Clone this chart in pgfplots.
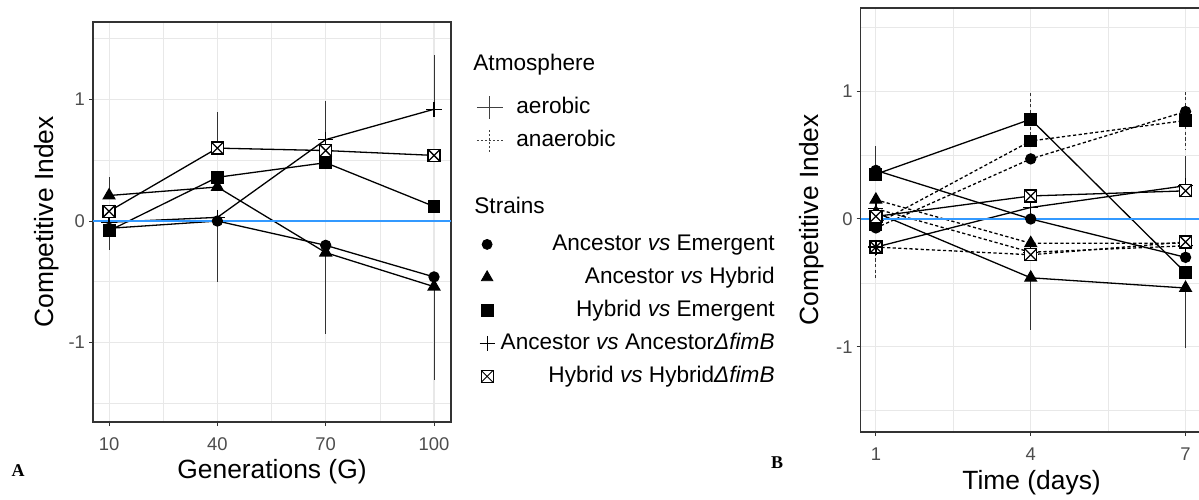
\documentclass[border=0pt]{standalone}
\usepackage{fontspec}
\setmainfont{Liberation Sans}
\newfontfamily\serifb{Liberation Serif}
\usepackage{pgfplots}
\pgfplotsset{compat=1.18}
\usetikzlibrary{plotmarks}

\definecolor{zeroblue}{RGB}{51,153,255}
\definecolor{gridgray}{RGB}{232,232,232}
\definecolor{framegray}{RGB}{51,51,51}
\definecolor{ticktext}{RGB}{77,77,77}

\newcommand\legfont{\fontsize{11.3}{13.5}\selectfont}

% open square with a cross (ggplot shape 7)
\pgfdeclareplotmark{boxx}{%
  \pgfpathrectangle{\pgfqpoint{-\pgfplotmarksize}{-\pgfplotmarksize}}{\pgfqpoint{2\pgfplotmarksize}{2\pgfplotmarksize}}%
  \pgfusepathqfillstroke
  \pgfpathmoveto{\pgfqpoint{-\pgfplotmarksize}{-\pgfplotmarksize}}%
  \pgfpathlineto{\pgfqpoint{\pgfplotmarksize}{\pgfplotmarksize}}%
  \pgfpathmoveto{\pgfqpoint{-\pgfplotmarksize}{\pgfplotmarksize}}%
  \pgfpathlineto{\pgfqpoint{\pgfplotmarksize}{-\pgfplotmarksize}}%
  \pgfusepathqstroke
}

\pgfplotsset{
  panel/.style={
    scale only axis, anchor=south west,
    axis line style={framegray, line width=0.6pt},
    grid=both,
    major grid style={gridgray, line width=0.55pt},
    minor grid style={gridgray, line width=0.3pt},
    tick align=outside, tick pos=left,
    major tick length=2pt, minor tick length=0pt,
    tick style={framegray, line width=0.5pt},
    ticklabel style={font=\fontsize{9.2}{10}\selectfont, text=ticktext},
    xticklabel style={yshift=-2.2pt},
    yticklabel style={xshift=1.5pt},
    label style={font=\fontsize{13.2}{15}\selectfont},
    ytick={-1,0,1}, yticklabels={-1,0,1},
    minor ytick={-1.5,-0.5,0.5,1.5},
  },
  aer/.style={black, line width=0.65pt},
  ana/.style={black, line width=0.65pt, dash pattern=on 1.6pt off 1.2pt},
  eb/.style={error bars/.cd, y dir=both, y explicit, error mark=none,
    error bar style={line width=0.45pt, black!80}},
  mAE/.style={mark=*, mark size=2.5pt, mark options={solid, fill=black}},
  mAH/.style={mark=triangle*, mark size=3.3pt, mark options={solid, fill=black}},
  mHE/.style={mark=square*, mark size=2.9pt, mark options={solid, fill=black}},
  mAA/.style={mark=+, mark size=3.8pt, mark options={solid}},
  mHH/.style={mark=boxx, mark size=3pt, mark options={solid, fill=white}},
}

\begin{document}
\begin{tikzpicture}[x=1pt,y=1pt]
\path[use as bounding box] (0,0) rectangle (599.5,249.5);

% ---------------- panel A
\begin{axis}[panel, at={(46.5pt,38.5pt)}, width=179pt, height=200pt,
  xmin=5.55, xmax=104.7, ymin=-1.654, ymax=1.638,
  xtick={10,40,70,100}, xticklabels={10,40,70,100}, minor xtick={25,55,85},
  xlabel={Generations (G)}, ylabel={Competitive Index},
  xlabel style={at={(axis description cs:0.5,-0.125)}, anchor=center},
  ylabel style={at={(axis description cs:-0.129,0.5)}, anchor=center},
]
\addplot[aer, mAE, eb] coordinates {(10,-0.06) +- (0,0) (40,0) -= (0,0.5) (70,-0.2) -= (0,0.73) (100,-0.46) +- (0,0)};
\addplot[aer, mAH, eb] coordinates {(10,0.21) += (0,0.15) (40,0.28) +- (0,0) (70,-0.26) +- (0,0) (100,-0.54) -= (0,0.77)};
\addplot[aer, mHE, eb] coordinates {(10,-0.08) -= (0,0.16) (40,0.36) +- (0,0) (70,0.48) +- (0,0) (100,0.12) +- (0,0)};
\addplot[aer, mAA, eb] coordinates {(10,-0.01) +- (0,0) (40,0.03) +- (0,0) (70,0.67) += (0,0.32) (100,0.92) += (0,0.45)};
\addplot[aer, mHH, eb] coordinates {(10,0.08) +- (0,0) (40,0.60) += (0,0.30) (70,0.58) +- (0,0) (100,0.54) +- (0,0)};
\addplot[zeroblue, line width=0.7pt] coordinates {(5.55,0) (104.7,0)};
\end{axis}

% ---------------- panel B
\begin{axis}[panel, at={(430.3pt,33.5pt)}, width=171pt, height=212pt,
  xmin=0.704, xmax=7.33, ymin=-1.666, ymax=1.65,
  xtick={1,4,7}, xticklabels={1,4,7}, minor xtick={2.5,5.5},
  xlabel={Time (days)}, ylabel={Competitive Index},
  xlabel style={at={(axis description cs:0.5,-0.120)}, anchor=center},
  ylabel style={at={(axis description cs:-0.143,0.5)}, anchor=center},
]
% anaerobic
\addplot[ana, mAE, eb] coordinates {(1,-0.07) +- (0,0) (4,0.47) +- (0,0) (7,0.84) += (0,0.17)};
\addplot[ana, mAH, eb] coordinates {(1,0.15) +- (0,0) (4,-0.19) +- (0,0) (7,-0.19) +- (0,0)};
\addplot[ana, mHE, eb] coordinates {(1,-0.04) +- (0,0) (4,0.61) += (0,0.39) (7,0.77) -= (0,0.22)};
\addplot[ana, mAA, eb] coordinates {(1,0.08) +- (0,0) (4,-0.26) +- (0,0) (7,-0.21) +- (0,0)};
\addplot[ana, mHH, eb] coordinates {(1,-0.22) -= (0,0.26) (4,-0.28) +- (0,0) (7,-0.18) +- (0,0)};
% aerobic
\addplot[aer, mAE, eb] coordinates {(1,0.38) += (0,0.19) (4,0) +- (0,0) (7,-0.30) +- (0,0)};
\addplot[aer, mAH, eb] coordinates {(1,0.05) +- (0,0) (4,-0.46) -= (0,0.41) (7,-0.54) -= (0,0.47)};
\addplot[aer, mHE, eb] coordinates {(1,0.35) +- (0,0) (4,0.78) +- (0,0) (7,-0.42) +- (0,0)};
\addplot[aer, mAA, eb] coordinates {(1,-0.22) +- (0,0) (4,0.09) +- (0,0) (7,0.26) +- (0,0)};
\addplot[aer, mHH, eb] coordinates {(1,0.02) +- (0,0) (4,0.18) +- (0,0) (7,0.22) += (0,0.27)};
\addplot[zeroblue, line width=0.7pt] coordinates {(0.704,0) (7.33,0)};
\end{axis}

% ---------------- legend: Atmosphere
\begin{axis}[at={(0pt,0pt)}, anchor=south west, scale only axis, width=599.5pt, height=249.5pt,
  hide axis, xmin=0, xmax=599.5, ymin=0, ymax=249.5,
  legend cell align=left,
  legend style={at={(axis cs:238,202)}, anchor=north west, draw=none, fill=none,
    inner sep=0pt, row sep=4.5pt, font=\legfont,
    nodes={inner xsep=6.5pt, inner ysep=0pt, text height=9pt, text depth=3pt}},
  legend image code/.code={\draw[#1] (0pt,0pt) -- (13pt,0pt); \draw[#1] (6.5pt,-5.75pt) -- (6.5pt,5.75pt);},
]
\addlegendimage{black!75, line width=0.5pt}
\addlegendentry{aerobic}
\addlegendimage{black!75, line width=0.5pt, dash pattern=on 1pt off 1pt}
\addlegendentry{anaerobic}
\end{axis}

% ---------------- legend: Strains
\begin{axis}[at={(0pt,0pt)}, anchor=south west, scale only axis, width=599.5pt, height=249.5pt,
  hide axis, xmin=0, xmax=599.5, ymin=0, ymax=249.5,
  legend cell align=right,
  legend style={at={(axis cs:390,133.5)}, anchor=north east, draw=none, fill=none,
    inner sep=0pt, row sep=4.5pt, font=\legfont,
    nodes={inner xsep=2.5pt, inner ysep=0pt, text height=9pt, text depth=3pt}},
  legend image code/.code={\path (-4pt,0pt) (4pt,0pt); \draw[#1] plot coordinates {(0pt,0pt)};},
]
\addlegendimage{black, mAE}
\addlegendentry{Ancestor \textit{vs} Emergent}
\addlegendimage{black, mAH}
\addlegendentry{Ancestor \textit{vs} Hybrid}
\addlegendimage{black, mHE}
\addlegendentry{Hybrid \textit{vs} Emergent}
\addlegendimage{black, line width=0.6pt, mAA}
\addlegendentry{Ancestor \textit{vs} Ancestor\textit{Δ}\textit{fimB}}
\addlegendimage{black, line width=0.5pt, mHH}
\addlegendentry{Hybrid \textit{vs} Hybrid\textit{Δ}\textit{fimB}}
\end{axis}

\node[anchor=west, inner sep=0pt, font=\legfont] at (236.5,217) {Atmosphere};
\node[anchor=west, inner sep=0pt, font=\legfont] at (237,147) {Strains};
\node[font=\serifb\bfseries\fontsize{9}{10}\selectfont] at (9,14) {A};
\node[font=\serifb\bfseries\fontsize{9}{10}\selectfont] at (388.5,18) {B};
\end{tikzpicture}
\end{document}
